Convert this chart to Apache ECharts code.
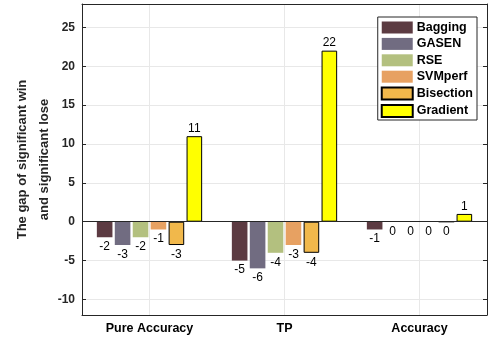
<!DOCTYPE html>
<html>
<head>
<meta charset="utf-8">
<script src="https://cdn.jsdelivr.net/npm/echarts@6/dist/echarts.min.js"></script>
<style>
  html, body { margin: 0; padding: 0; background: #fff; }
  #chart { width: 488px; height: 339px; }
</style>
</head>
<body>
<div id="chart"></div>
<script>
// Metrics on the x axis
const categories = ['Pure Accuracy', 'TP', 'Accuracy'];

// Gap between significant wins and significant losses per method
const bagging  = [-2, -5, -1];
const gasen    = [-3, -6, 0];
const rse      = [-2, -4, 0];
const svmperf  = [-1, -3, 0];
const bisection = [-3, -4, 0];
const gradient = [11, 22, 1];

// Y axis tick values and range
const yTicks = [-10, -5, 0, 5, 10, 15, 20, 25];
const yMin = -12;
const yMax = 28;

const methods = [
  { name: 'Bagging',   data: bagging,   color: '#5c3b42', edge: false },
  { name: 'GASEN',     data: gasen,     color: '#716c81', edge: false },
  { name: 'RSE',       data: rse,       color: '#b3c07f', edge: false },
  { name: 'SVMperf',   data: svmperf,   color: '#e7a162', edge: false },
  { name: 'Bisection', data: bisection, color: '#f1b84b', edge: true },
  { name: 'Gradient',  data: gradient,  color: '#ffff00', edge: true }
];

const axisColor = '#262626';
const gridColor = '#e8e8e8';
const font = 'Liberation Sans, Arial, Helvetica, sans-serif';

const series = methods.map((m, i) => ({
  name: m.name,
  type: 'bar',
  xAxisIndex: 0,
  yAxisIndex: 0,
  barGap: '15%',
  barCategoryGap: '22%',
  itemStyle: {
    color: m.color,
    borderColor: m.edge ? '#000' : m.color,
    borderWidth: m.edge ? 1 : 0
  },
  data: m.data.map(v => ({
    value: v,
    label: {
      show: true,
      position: v > 0 ? 'top' : 'bottom',
      distance: v > 0 ? 1.5 : 3.5
    }
  })),
  label: {
    show: true,
    fontFamily: font,
    fontSize: 12,
    color: '#000'
  },
  markLine: i === 0 ? {
    silent: true,
    symbol: ['none', 'none'],
    label: { show: false },
    lineStyle: { color: axisColor, width: 1, type: 'solid' },
    data: [{ yAxis: 0 }]
  } : undefined
}));

const chart = echarts.init(document.getElementById('chart'), null, { renderer: 'canvas' });

chart.setOption({
  animation: false,
  backgroundColor: '#fff',
  textStyle: { fontFamily: font },
  grid: { left: 82, right: 1, top: 4, bottom: 24, containLabel: false, outerBoundsMode: 'none' },
  legend: {
    orient: 'vertical',
    right: 11,
    top: 17,
    icon: 'rect',
    itemWidth: 31,
    itemHeight: 12,
    itemGap: 3.4,
    padding: [4, 4, 2, 3],
    borderColor: axisColor,
    borderWidth: 1,
    backgroundColor: '#fff',
    selectedMode: false,
    textStyle: { fontFamily: font, fontWeight: 'bold', fontSize: 12.5, color: '#000', padding: [0, 0, 0, -1] },
    data: methods.map(m => m.name)
  },
  xAxis: [
    {
      type: 'category',
      position: 'bottom',
      data: categories,
      axisLine: { onZero: false, lineStyle: { color: axisColor, width: 1 } },
      axisTick: { inside: true, alignWithLabel: true, length: 4, lineStyle: { color: axisColor } },
      axisLabel: { fontFamily: font, fontWeight: 'bold', fontSize: 12.5, color: '#000', margin: 7 },
      splitLine: { show: true, alignWithLabel: true, lineStyle: { color: gridColor, width: 1 } }
    },
    {
      type: 'category',
      position: 'top',
      data: categories,
      axisLine: { onZero: false, lineStyle: { color: axisColor, width: 1 } },
      axisTick: { inside: true, alignWithLabel: true, length: 4, lineStyle: { color: axisColor } },
      axisLabel: { show: false },
      splitLine: { show: false }
    }
  ],
  yAxis: [
    {
      type: 'value',
      position: 'left',
      min: yMin,
      max: yMax,
      name: 'The gap of significant win\nand significant lose',
      nameLocation: 'middle',
      nameGap: 27,
      nameMoveOverlap: false,
      nameTextStyle: { fontFamily: font, fontWeight: 'bold', fontSize: 13, lineHeight: 22, color: '#262626' },
      axisLine: { show: true, lineStyle: { color: axisColor, width: 1 } },
      axisTick: { show: true, inside: true, length: 4, customValues: yTicks, lineStyle: { color: axisColor } },
      axisLabel: { customValues: yTicks, fontFamily: font, fontWeight: 'bold', fontSize: 12, color: '#262626', margin: 7 },
      splitLine: { show: true, lineStyle: { color: gridColor, width: 1 } }
    },
    {
      type: 'value',
      position: 'right',
      min: yMin,
      max: yMax,
      axisLine: { show: true, lineStyle: { color: axisColor, width: 1 } },
      axisTick: { show: true, inside: true, length: 4, customValues: yTicks, lineStyle: { color: axisColor } },
      axisLabel: { show: false },
      splitLine: { show: false }
    }
  ],
  series: series
});
</script>
</body>
</html>
